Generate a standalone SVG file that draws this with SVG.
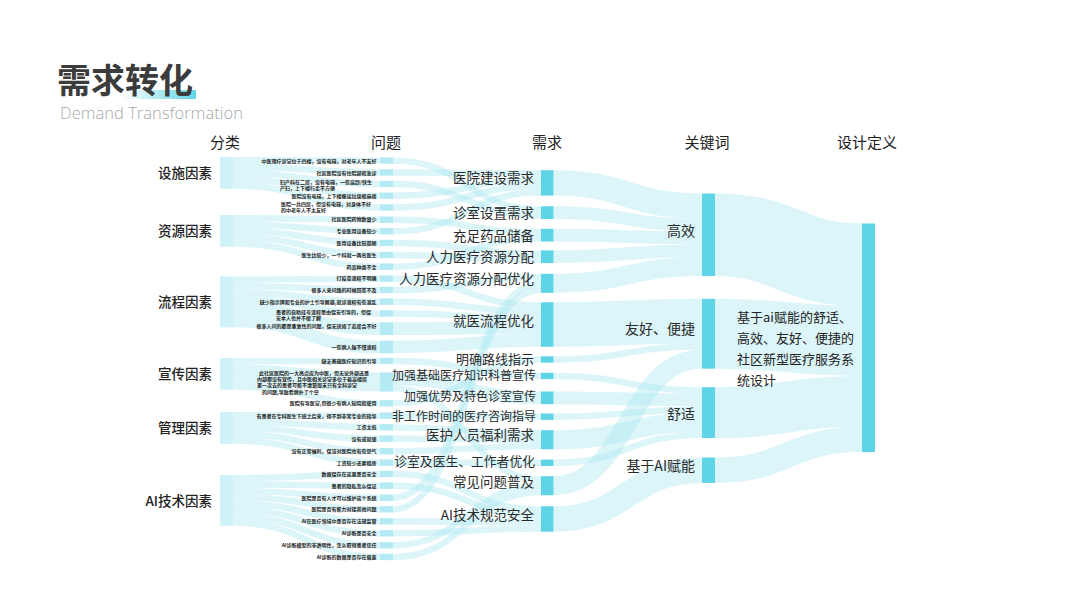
<svg xmlns="http://www.w3.org/2000/svg" width="1067" height="600" viewBox="0 0 1067 600">
<defs>
<linearGradient id="hl" x1="0" y1="0" x2="1" y2="0">
<stop offset="0" stop-color="#5fd6e8" stop-opacity="0"/>
<stop offset="1" stop-color="#5fd6e8" stop-opacity="1"/>
</linearGradient>
<style>
text{font-family:"Noto Sans CJK SC","Noto Sans",sans-serif;}
.lk path{fill:none;stroke:#b0e8f2;stroke-opacity:0.45;}
.cat{fill:#cff1f8;}
.prb{fill:#b3eaf4;}
.nd{fill:#5ed4e6;}
.hd{font-size:15px;fill:#222;text-anchor:middle;}
.cl{font-size:13.5px;fill:#222;text-anchor:end;font-weight:500;}
.pl{font-size:5px;fill:#222;text-anchor:end;font-weight:700;}
.pm{font-size:5px;fill:#222;font-weight:700;}
.dl{font-size:13.5px;fill:#2a2a2a;text-anchor:end;}
.kl{font-size:14px;fill:#2a2a2a;text-anchor:end;}
.tl{font-size:13px;fill:#222;}
</style>
</defs>
<rect width="1067" height="600" fill="#ffffff"/>

<g id="title">
<rect x="121" y="90" width="75" height="9" fill="url(#hl)"/>
<text x="57" y="93" style="font-size:34px;font-weight:700;fill:#3c3c3c;">需求转化</text>
<text x="60" y="119" textLength="183" lengthAdjust="spacing" style="font-family:'Open Sans','Noto Sans',sans-serif;font-size:16.5px;font-weight:300;fill:#a8a8a8;">Demand  Transformation</text>
</g>

<g id="headers">
<text class="hd" x="225" y="148">分类</text>
<text class="hd" x="386" y="148">问题</text>
<text class="hd" x="547" y="148">需求</text>
<text class="hd" x="707" y="148">关键词</text>
<text class="hd" x="867" y="148">设计定义</text>
</g>

<g id="links" class="lk">
<!-- category -> problem -->
<path d="M233,160.2 C306.5,160.2 306.5,160.6 380,160.6" stroke-width="6.35"/>
<path d="M233,166.5 C306.5,166.5 306.5,172.5 380,172.5" stroke-width="6.35"/>
<path d="M233,172.9 C306.5,172.9 306.5,184 380,184" stroke-width="6.35"/>
<path d="M233,179.2 C306.5,179.2 306.5,195.7 380,195.7" stroke-width="6.35"/>
<path d="M233,185.6 C306.5,185.6 306.5,207.5 380,207.5" stroke-width="6.35"/>
<path d="M233,218.2 C306.5,218.2 306.5,219.7 380,219.7" stroke-width="6.35"/>
<path d="M233,224.5 C306.5,224.5 306.5,231.3 380,231.3" stroke-width="6.35"/>
<path d="M233,230.9 C306.5,230.9 306.5,243 380,243" stroke-width="6.35"/>
<path d="M233,237.2 C306.5,237.2 306.5,255 380,255" stroke-width="6.35"/>
<path d="M233,243.6 C306.5,243.6 306.5,266.7 380,266.7" stroke-width="6.35"/>
<path d="M233,279.7 C306.5,279.7 306.5,278.7 380,278.7" stroke-width="6.35"/>
<path d="M233,286 C306.5,286 306.5,290 380,290" stroke-width="6.35"/>
<path d="M233,292.4 C306.5,292.4 306.5,301.7 380,301.7" stroke-width="6.35"/>
<path d="M233,298.7 C306.5,298.7 306.5,313.5 380,313.5" stroke-width="6.35"/>
<path d="M233,308.3 C306.5,308.3 306.5,328.7 380,328.7" stroke-width="12.7"/>
<path d="M233,321 C306.5,321 306.5,347 380,347" stroke-width="12.7"/>
<path d="M233,361.2 C306.5,361.2 306.5,361 380,361" stroke-width="6.35"/>
<path d="M233,373.9 C306.5,373.9 306.5,382 380,382" stroke-width="19.05"/>
<path d="M233,386.6 C306.5,386.6 306.5,403.3 380,403.3" stroke-width="6.35"/>
<path d="M233,415.2 C306.5,415.2 306.5,415.7 380,415.7" stroke-width="6.35"/>
<path d="M233,421.5 C306.5,421.5 306.5,427.3 380,427.3" stroke-width="6.35"/>
<path d="M233,427.9 C306.5,427.9 306.5,438.7 380,438.7" stroke-width="6.35"/>
<path d="M233,434.2 C306.5,434.2 306.5,451.3 380,451.3" stroke-width="6.35"/>
<path d="M233,440.6 C306.5,440.6 306.5,462.7 380,462.7" stroke-width="6.35"/>
<path d="M233,478.2 C306.5,478.2 306.5,474 380,474" stroke-width="6.35"/>
<path d="M233,484.5 C306.5,484.5 306.5,485.7 380,485.7" stroke-width="6.35"/>
<path d="M233,490.9 C306.5,490.9 306.5,497.7 380,497.7" stroke-width="6.35"/>
<path d="M233,497.2 C306.5,497.2 306.5,509.3 380,509.3" stroke-width="6.35"/>
<path d="M233,503.6 C306.5,503.6 306.5,521.3 380,521.3" stroke-width="6.35"/>
<path d="M233,509.9 C306.5,509.9 306.5,533.3 380,533.3" stroke-width="6.35"/>
<path d="M233,516.3 C306.5,516.3 306.5,545.3 380,545.3" stroke-width="6.35"/>
<path d="M233,522.6 C306.5,522.6 306.5,557 380,557" stroke-width="6.35"/>
<!-- problem -> demand -->
<path d="M393,160.6 C467,160.6 467,209.5 541,209.5" stroke-width="6.35"/>
<path d="M393,172.5 C467,172.5 467,173.4 541,173.4" stroke-width="6.35"/>
<path d="M393,184 C467,184 467,215.8 541,215.8" stroke-width="6.35"/>
<path d="M393,195.7 C467,195.7 467,179.7 541,179.7" stroke-width="6.35"/>
<path d="M393,207.5 C467,207.5 467,186.1 541,186.1" stroke-width="6.35"/>
<path d="M393,219.7 C467,219.7 467,232 541,232" stroke-width="6.35"/>
<path d="M393,231.3 C467,231.3 467,192.4 541,192.4" stroke-width="6.35"/>
<path d="M393,243 C467,243 467,253.6 541,253.6" stroke-width="6.35"/>
<path d="M393,255 C467,255 467,259.9 541,259.9" stroke-width="6.35"/>
<path d="M393,266.7 C467,266.7 467,238.3 541,238.3" stroke-width="6.35"/>
<path d="M393,278.7 C467,278.7 467,305.5 541,305.5" stroke-width="6.35"/>
<path d="M393,290 C467,290 467,277 541,277" stroke-width="6.35"/>
<path d="M393,301.7 C467,301.7 467,311.8 541,311.8" stroke-width="6.35"/>
<path d="M393,313.5 C467,313.5 467,318.2 541,318.2" stroke-width="6.35"/>
<path d="M393,328.7 C467,328.7 467,327.7 541,327.7" stroke-width="12.7"/>
<path d="M393,347 C467,347 467,340.4 541,340.4" stroke-width="12.7"/>
<path d="M393,361 C467,361 467,376 541,376" stroke-width="6.35"/>
<path d="M393,378.8 C467,378.8 467,397.85 541,397.85" stroke-width="12.7"/>
<path d="M393,388.4 C467,388.4 467,479.4 541,479.4" stroke-width="6.35"/>
<path d="M393,403.3 C467,403.3 467,359.5 541,359.5" stroke-width="6.35"/>
<path d="M393,415.7 C467,415.7 467,416.7 541,416.7" stroke-width="6.35"/>
<path d="M393,427.3 C467,427.3 467,433.4 541,433.4" stroke-width="6.35"/>
<path d="M393,438.7 C467,438.7 467,439.7 541,439.7" stroke-width="6.35"/>
<path d="M393,451.3 C467,451.3 467,446.1 541,446.1" stroke-width="6.35"/>
<path d="M393,462.7 C467,462.7 467,462.8 541,462.8" stroke-width="6.35"/>
<path d="M393,474 C467,474 467,509.5 541,509.5" stroke-width="6.35"/>
<path d="M393,485.7 C467,485.7 467,515.8 541,515.8" stroke-width="6.35"/>
<path d="M393,497.7 C467,497.7 467,283.3 541,283.3" stroke-width="6.35"/>
<path d="M393,509.3 C467,509.3 467,289.7 541,289.7" stroke-width="6.35"/>
<path d="M393,521.3 C467,521.3 467,522.2 541,522.2" stroke-width="6.35"/>
<path d="M393,533.3 C467,533.3 467,528.5 541,528.5" stroke-width="6.35"/>
<path d="M393,545.3 C467,545.3 467,485.7 541,485.7" stroke-width="6.35"/>
<path d="M393,557 C467,557 467,492.1 541,492.1" stroke-width="6.35"/>
<!-- demand -> keyword -->
<path d="M553.5,182.9 C627.75,182.9 627.75,206.2 702,206.2" stroke-width="25.4"/>
<path d="M553.5,212.65 C627.75,212.65 627.75,225.25 702,225.25" stroke-width="12.7"/>
<path d="M553.5,235.15 C627.75,235.15 627.75,237.95 702,237.95" stroke-width="12.7"/>
<path d="M553.5,256.75 C627.75,256.75 627.75,250.65 702,250.65" stroke-width="12.7"/>
<path d="M553.5,283.3 C627.75,283.3 627.75,266.5 702,266.5" stroke-width="19.05"/>
<path d="M553.5,324.5 C627.75,324.5 627.75,321 702,321" stroke-width="44.45"/>
<path d="M553.5,359.5 C627.75,359.5 627.75,346.4 702,346.4" stroke-width="6.35"/>
<path d="M553.5,485.7 C627.75,485.7 627.75,359.1 702,359.1" stroke-width="19.05"/>
<path d="M553.5,376 C627.75,376 627.75,390.4 702,390.4" stroke-width="6.35"/>
<path d="M553.5,397.85 C627.75,397.85 627.75,399.9 702,399.9" stroke-width="12.7"/>
<path d="M553.5,416.7 C627.75,416.7 627.75,409.4 702,409.4" stroke-width="6.35"/>
<path d="M553.5,439.7 C627.75,439.7 627.75,422.1 702,422.1" stroke-width="19.05"/>
<path d="M553.5,462.8 C627.75,462.8 627.75,434.8 702,434.8" stroke-width="6.35"/>
<path d="M553.5,519 C627.75,519 627.75,470.2 702,470.2" stroke-width="25.4"/>
<!-- keyword -> design -->
<path d="M715,234.8 C788.5,234.8 788.5,264.8 862,264.8" stroke-width="82.55"/>
<path d="M715,333.7 C788.5,333.7 788.5,341 862,341" stroke-width="69.85"/>
<path d="M715,412.6 C788.5,412.6 788.5,401.3 862,401.3" stroke-width="50.8"/>
<path d="M715,470.2 C788.5,470.2 788.5,439.4 862,439.4" stroke-width="25.4"/>
</g>

<g id="cat-facility"><rect class="cat" x="220" y="157" width="13" height="31.75"/><text class="cl" x="212" y="178">设施因素</text></g>
<g id="cat-resource"><rect class="cat" x="220" y="215" width="13" height="31.75"/><text class="cl" x="212" y="236">资源因素</text></g>
<g id="cat-process"><rect class="cat" x="220" y="276.5" width="13" height="50.8"/><text class="cl" x="212" y="307">流程因素</text></g>
<g id="cat-publicity"><rect class="cat" x="220" y="358" width="13" height="31.75"/><text class="cl" x="212" y="379">宣传因素</text></g>
<g id="cat-management"><rect class="cat" x="220" y="412" width="13" height="31.75"/><text class="cl" x="212" y="433">管理因素</text></g>
<g id="cat-ai"><rect class="cat" x="220" y="475" width="13" height="50.8"/><text class="cl" x="212" y="506">AI技术因素</text></g>

<g id="p1"><rect class="prb" x="380" y="157.4" width="13" height="6.35"/><text class="pl" x="376.5" y="162.8">中医理疗诊室位于四楼，没有电梯，对老年人不友好</text></g>
<g id="p2"><rect class="prb" x="380" y="169.3" width="13" height="6.35"/><text class="pl" x="376.5" y="174.5">社区医院没有住院部和急诊</text></g>
<g id="p3"><rect class="prb" x="380" y="180.8" width="13" height="6.35"/><text class="pm" x="280" y="183.8">妇产科在二层，没有电梯，一些高龄/快生</text><text class="pm" x="280" y="189.5">产妇，上下楼行走不方便</text></g>
<g id="p4"><rect class="prb" x="380" y="192.5" width="13" height="6.35"/><text class="pl" x="376.5" y="197.8">医院没有电梯，上下楼搬运垃圾很麻烦</text></g>
<g id="p5"><rect class="prb" x="380" y="204.3" width="13" height="6.35"/><text class="pm" x="281" y="205.8">医院一共四层，但没有电梯，对身体不好</text><text class="pm" x="281" y="212.1">的中老年人不太友好</text></g>
<g id="p6"><rect class="prb" x="380" y="216.5" width="13" height="6.35"/><text class="pl" x="376.5" y="221.1">社区医院药物数量少</text></g>
<g id="p7"><rect class="prb" x="380" y="228.1" width="13" height="6.35"/><text class="pl" x="376.5" y="233.1">专业医用设备较少</text></g>
<g id="p8"><rect class="prb" x="380" y="239.8" width="13" height="6.35"/><text class="pl" x="376.5" y="245.1">医用设备比较简陋</text></g>
<g id="p9"><rect class="prb" x="380" y="251.8" width="13" height="6.35"/><text class="pl" x="376.5" y="256.8">医生比较少，一个科就一两名医生</text></g>
<g id="p10"><rect class="prb" x="380" y="263.5" width="13" height="6.35"/><text class="pl" x="376.5" y="268.5">药品种类不全</text></g>
<g id="p11"><rect class="prb" x="380" y="275.5" width="13" height="6.35"/><text class="pl" x="376.5" y="280.1">打疫苗流程不明确</text></g>
<g id="p12"><rect class="prb" x="380" y="286.8" width="13" height="6.35"/><text class="pl" x="376.5" y="291.8">很多人来问路的时候回答不及</text></g>
<g id="p13"><rect class="prb" x="380" y="298.5" width="13" height="6.35"/><text class="pl" x="376.5" y="303.8">缺少指示牌和专业的护士引导解惑,就诊流程有些混乱</text></g>
<g id="p14"><rect class="prb" x="380" y="310.3" width="13" height="6.35"/><text class="pm" x="276" y="313.5">患者的自助挂号流程是由保安引导的，但保</text><text class="pm" x="276" y="319.5">安本人也并不很了解</text></g>
<g id="p15"><rect class="prb" x="380" y="322.35" width="13" height="12.7"/><text class="pl" x="376.5" y="327.8">很多人问的都是重复性的问题，保安厌烦了态度会不好</text></g>
<g id="p16"><rect class="prb" x="380" y="340.65" width="13" height="12.7"/><text class="pl" x="376.5" y="348.5">一些病人搞不懂流程</text></g>
<g id="p17"><rect class="prb" x="380" y="357.8" width="13" height="6.35"/><text class="pl" x="376.5" y="362.8">缺乏基础医疗知识的引导</text></g>
<g id="p18"><rect class="prb" x="380" y="372.5" width="13" height="19.05"/><text class="pm" x="259" y="374.5">此社区医院的一大亮点应为中医，但无论外部还是</text><text class="pm" x="257" y="380.8">内部都没有宣传，且中医相关诊室多位于最高楼层</text><text class="pm" x="257" y="387.1">第一次去的患者可能不清楚周末只有全科诊室</text><text class="pm" x="262" y="393.5">的问题,导致看病扑了个空</text></g>
<g id="p19"><rect class="prb" x="380" y="400.1" width="13" height="6.35"/><text class="pl" x="376.5" y="405.1">医院有导医室,但很少有病人知晓和使用</text></g>
<g id="p20"><rect class="prb" x="380" y="412.5" width="13" height="6.35"/><text class="pl" x="376.5" y="417.5">有患者在专科医生下班之后来，得不到非常专业的指导</text></g>
<g id="p21"><rect class="prb" x="380" y="424.1" width="13" height="6.35"/><text class="pl" x="376.5" y="429.1">工资太低</text></g>
<g id="p22"><rect class="prb" x="380" y="435.5" width="13" height="6.35"/><text class="pl" x="376.5" y="440.5">没有成就感</text></g>
<g id="p23"><rect class="prb" x="380" y="448.1" width="13" height="6.35"/><text class="pl" x="376.5" y="453.1">没有正常福利，保洁对医院也有些怨气</text></g>
<g id="p24"><rect class="prb" x="380" y="459.5" width="13" height="6.35"/><text class="pl" x="376.5" y="464.5">工资较少还要租房</text></g>
<g id="p25"><rect class="prb" x="380" y="470.8" width="13" height="6.35"/><text class="pl" x="376.5" y="475.8">数据保存在这里是否安全</text></g>
<g id="p26"><rect class="prb" x="380" y="482.5" width="13" height="6.35"/><text class="pl" x="376.5" y="487.5">患者的隐私怎么保证</text></g>
<g id="p27"><rect class="prb" x="380" y="494.5" width="13" height="6.35"/><text class="pl" x="376.5" y="499.5">医院是否有人才可以维护这个系统</text></g>
<g id="p28"><rect class="prb" x="380" y="506.1" width="13" height="6.35"/><text class="pl" x="376.5" y="511.1">医院是否有能力对接其他问题</text></g>
<g id="p29"><rect class="prb" x="380" y="518.1" width="13" height="6.35"/><text class="pl" x="376.5" y="523.1">AI在医疗领域中是否存在法规监管</text></g>
<g id="p30"><rect class="prb" x="380" y="530.1" width="13" height="6.35"/><text class="pl" x="376.5" y="535.1">AI诊断是否安全</text></g>
<g id="p31"><rect class="prb" x="380" y="542.1" width="13" height="6.35"/><text class="pl" x="376.5" y="547.1">AI诊断模型的非透明性，怎么取得患者信任</text></g>
<g id="p32"><rect class="prb" x="380" y="553.8" width="13" height="6.35"/><text class="pl" x="376.5" y="558.8">AI诊断的数据是否存在偏差</text></g>

<g id="d1"><rect class="nd" x="541" y="170.2" width="12.5" height="25.4"/><text class="dl" x="534" y="183.3">医院建设需求</text></g>
<g id="d2"><rect class="nd" x="541" y="206.3" width="12.5" height="12.7"/><text class="dl" x="534" y="218.3">诊室设置需求</text></g>
<g id="d3"><rect class="nd" x="541" y="228.8" width="12.5" height="12.7"/><text class="dl" x="534" y="241">充足药品储备</text></g>
<g id="d4"><rect class="nd" x="541" y="250.4" width="12.5" height="12.7"/><text class="dl" x="534" y="261.7">人力医疗资源分配</text></g>
<g id="d5"><rect class="nd" x="541" y="273.8" width="12.5" height="19.05"/><text class="dl" x="534" y="284.3">人力医疗资源分配优化</text></g>
<g id="d6"><rect class="nd" x="541" y="302.3" width="12.5" height="44.45"/><text class="dl" x="534" y="325.7">就医流程优化</text></g>
<g id="d7"><rect class="nd" x="541" y="356.3" width="12.5" height="6.35"/><text class="dl" x="534" y="363.5" style="font-size:13px">明确路线指示</text></g>
<g id="d8"><rect class="nd" x="541" y="372.8" width="12.5" height="6.35"/><text class="dl" x="536" y="380" style="font-size:12px">加强基础医疗知识科普宣传</text></g>
<g id="d9"><rect class="nd" x="541" y="391.5" width="12.5" height="12.7"/><text class="dl" x="536" y="401.2" style="font-size:12px">加强优势及特色诊室宣传</text></g>
<g id="d10"><rect class="nd" x="541" y="413.5" width="12.5" height="6.35"/><text class="dl" x="536" y="421.2" style="font-size:12px">非工作时间的医疗咨询指导</text></g>
<g id="d11"><rect class="nd" x="541" y="430.2" width="12.5" height="19.05"/><text class="dl" x="534" y="440">医护人员福利需求</text></g>
<g id="d12"><rect class="nd" x="541" y="459.6" width="12.5" height="6.35"/><text class="dl" x="535" y="465.5" style="font-size:12.8px">诊室及医生、工作者优化</text></g>
<g id="d13"><rect class="nd" x="541" y="476.2" width="12.5" height="19.05"/><text class="dl" x="534" y="486.7">常见问题普及</text></g>
<g id="d14"><rect class="nd" x="541" y="506.3" width="12.5" height="25.4"/><text class="dl" x="534" y="520">AI技术规范安全</text></g>

<g id="k1"><rect class="nd" x="702" y="193.5" width="13" height="82.55"/><text class="kl" x="695" y="236">高效</text></g>
<g id="k2"><rect class="nd" x="702" y="298.8" width="13" height="69.85"/><text class="kl" x="695" y="333.5">友好、便捷</text></g>
<g id="k3"><rect class="nd" x="702" y="387.2" width="13" height="50.8"/><text class="kl" x="695" y="418.5">舒适</text></g>
<g id="k4"><rect class="nd" x="702" y="457.5" width="13" height="25.4"/><text class="kl" x="695" y="470.5">基于AI赋能</text></g>

<g id="design"><rect class="nd" x="862" y="223.5" width="13" height="228.6"/>
<text class="tl" x="737" y="321.5">基于ai赋能的舒适、</text>
<text class="tl" x="737" y="342.5">高效、友好、便捷的</text>
<text class="tl" x="737" y="364">社区新型医疗服务系</text>
<text class="tl" x="737" y="385">统设计</text>
</g>
</svg>
